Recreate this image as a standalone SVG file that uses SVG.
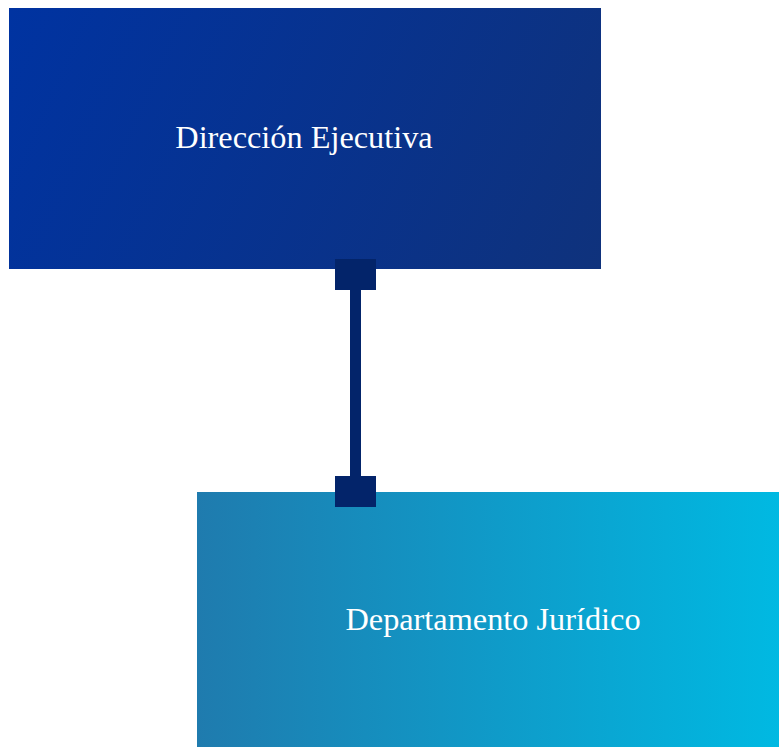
<svg xmlns="http://www.w3.org/2000/svg" width="779" height="747" viewBox="0 0 779 747">
<defs>
<linearGradient id="g1" gradientUnits="userSpaceOnUse" x1="9" y1="8" x2="601" y2="269">
<stop offset="0" stop-color="#0033a1"/>
<stop offset="1" stop-color="#0f327c"/>
</linearGradient>
<linearGradient id="g2" x1="0" y1="0" x2="1" y2="0">
<stop offset="0" stop-color="#1f7bae"/>
<stop offset="1" stop-color="#00b9e2"/>
</linearGradient>
<style>
.lbl{font-family:"Liberation Serif","DejaVu Serif",serif;font-size:32.3px;fill:#ffffff;text-anchor:middle}
.conn{fill:#03246a}
</style>
</defs>
<g id="node-direccion">
<rect x="9" y="8" width="592" height="261" fill="url(#g1)"/>
<text class="lbl" x="304" y="148">Dirección Ejecutiva</text>
</g>
<g id="node-juridico">
<rect x="197" y="492" width="582" height="255" fill="url(#g2)"/>
<text class="lbl" x="493" y="630">Departamento Jurídico</text>
</g>
<g id="connectors">
<rect class="conn" x="350" y="285" width="11" height="196"/>
<rect class="conn" x="335" y="259" width="41" height="31"/>
<rect class="conn" x="335" y="476" width="41" height="31"/>
</g>
</svg>
